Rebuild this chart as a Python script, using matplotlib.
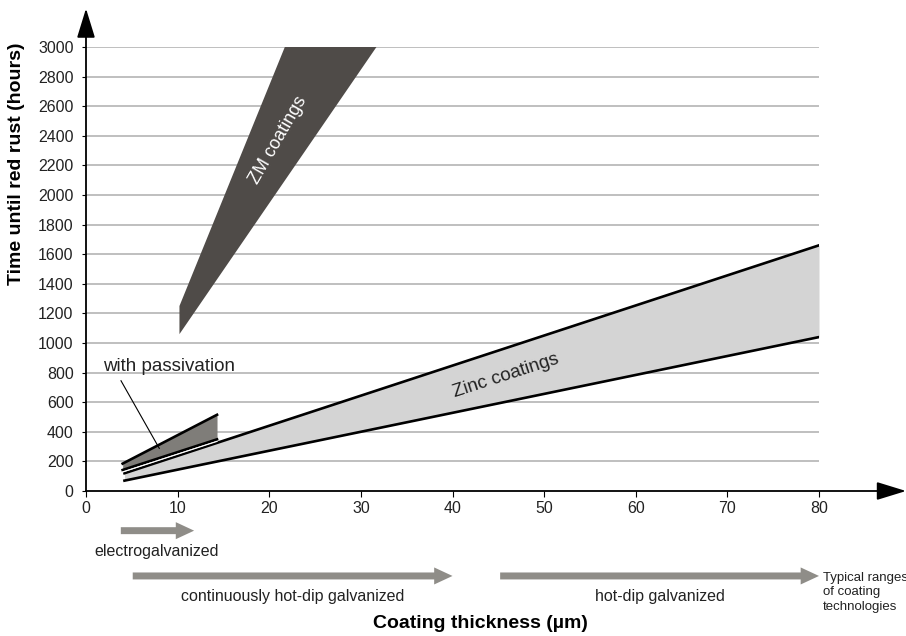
import matplotlib
matplotlib.use("Agg")
import matplotlib.pyplot as plt
from matplotlib.patches import FancyArrow

plt.rcParams["font.family"] = ["Liberation Sans", "DejaVu Sans"]

# --- data ------------------------------------------------------------------
zinc_x = [4.2, 80.0]
zinc_upper = [120, 1660]
zinc_lower = [70, 1040]

pass_x = [4.0, 14.3]
pass_upper = [185, 515]
pass_lower = [142, 349]

zm_x = [10.2, 10.2, 21.7, 31.7]
zm_y = [1060, 1250, 3000, 3000]

y_ticks = list(range(0, 3001, 200))
x_ticks = list(range(0, 81, 10))

# coating technology ranges (µm): label, start, end, row
ranges = [
    ("electrogalvanized", 3.8, 11.8, 0),
    ("continuously hot-dip galvanized", 5.1, 40.0, 1),
    ("hot-dip galvanized", 45.2, 80.0, 1),
]

GRID = "#b4b4b4"
ZINC = "#d4d4d4"
PASS = "#7f7d79"
ZM = "#4f4b48"
ARROW = "#8f8d88"

fig = plt.figure(figsize=(9.06, 6.36), dpi=100)
ax = fig.add_axes([86 / 906, 145 / 636, 733 / 906, 444 / 636])
ax.set_xlim(0, 80)
ax.set_ylim(0, 3000)
for s in ax.spines.values():
    s.set_visible(False)

ax.hlines(y_ticks[1:], 0, 80, color=GRID, lw=1.2, zorder=1)

# zinc band
ax.fill_between(zinc_x, zinc_lower, zinc_upper, color=ZINC, lw=0, zorder=2)
ax.plot(zinc_x, zinc_upper, color="black", lw=1.9, zorder=4)
ax.plot(zinc_x, zinc_lower, color="black", lw=1.9, zorder=4)

# with passivation band
ax.fill_between(pass_x, pass_lower, pass_upper, color=PASS, lw=0, zorder=3)
ax.plot(pass_x, pass_upper, color="black", lw=1.9, zorder=4)
ax.plot(pass_x, pass_lower, color="black", lw=1.9, zorder=4)
ax.plot(pass_x, [v - 14 for v in pass_lower], color="white", lw=0.8, zorder=5)

# ZM band
ax.fill(zm_x, zm_y, color=ZM, lw=0, zorder=3, clip_on=False)

ax.text(21.0, 2372, "ZM coatings", color="white", fontsize=13, rotation=60,
        ha="center", va="center", rotation_mode="anchor", zorder=6)
ax.text(45.8, 777, "Zinc coatings", color="#222222", fontsize=13.5, rotation=18,
        ha="center", va="center", rotation_mode="anchor", zorder=6)
ax.text(1.9, 840, "with passivation", fontsize=13.5, ha="left", va="center",
        color="#222222")
ax.plot([3.82, 8.0], [745, 288], color="black", lw=0.8, zorder=6)

# axes with arrow heads
ax.annotate("", xy=(0, 3260), xytext=(0, 0), annotation_clip=False,
            arrowprops=dict(arrowstyle="-|>,head_length=1.3,head_width=0.4",
                            color="black", lw=1.3, shrinkA=0, shrinkB=0,
                            mutation_scale=14))
ax.annotate("", xy=(89.5, 0), xytext=(0, 0), annotation_clip=False,
            arrowprops=dict(arrowstyle="-|>,head_length=1.3,head_width=0.4",
                            color="black", lw=1.3, shrinkA=0, shrinkB=0,
                            mutation_scale=14))

ax.set_yticks(y_ticks)
ax.set_xticks(x_ticks)
ax.tick_params(axis="y", length=3, width=0.8, pad=6, labelsize=11.5,
               colors="black", labelcolor="#222222")
ax.tick_params(axis="x", length=4, width=0.8, pad=3.5, labelsize=11.5,
               colors="black", labelcolor="#222222")

# technology ranges under the axis
row_y = [-268, -574]
for label, x0, x1, row in ranges:
    y = row_y[row]
    ax.add_patch(FancyArrow(x0, y, x1 - x0, 0, width=47, head_width=115,
                            head_length=2.0, length_includes_head=True,
                            color=ARROW, lw=0, clip_on=False))
    ax.text((x0 + x1) / 2 if row else 7.75, y - 142,
            label, fontsize=11.5, ha="center", va="center", color="#222222",
            clip_on=False)
ax.text(80.4, -684, "Typical ranges\nof coating\ntechnologies", fontsize=9.5,
        ha="left", va="center", linespacing=1.3, color="#222222")

fig.text(480 / 906, 1 - 624 / 636, "Coating thickness (µm)", fontsize=14,
         fontweight="bold", ha="center", va="center")
fig.text(17 / 906, 1 - 164 / 636, "Time until red rust (hours)", fontsize=14,
         fontweight="bold", ha="center", va="center", rotation=90)

fig.savefig("out.png", dpi=100)
